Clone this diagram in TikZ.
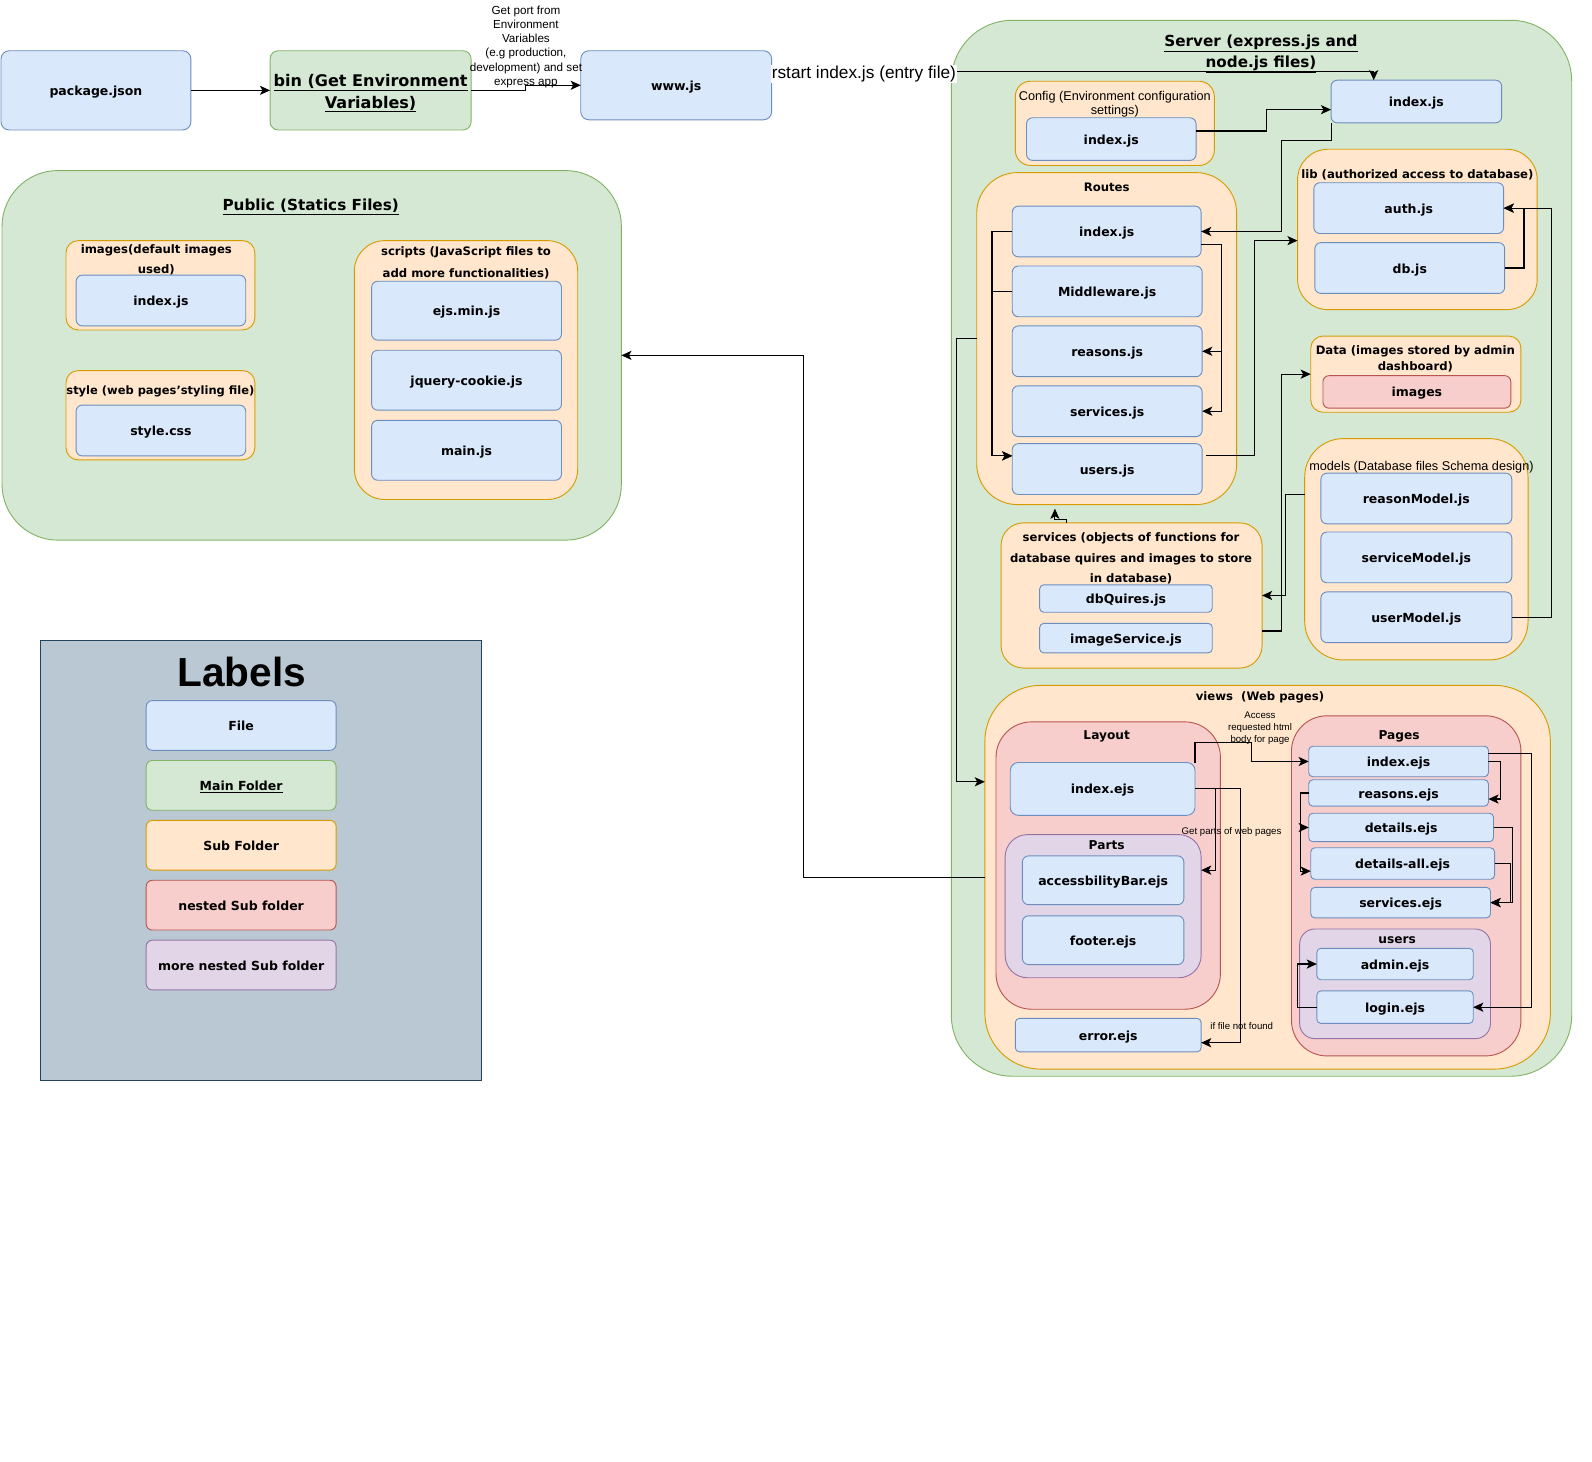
\documentclass[tikz,border=0pt]{standalone}
\usepackage{fontspec}
\setmainfont{DejaVu Sans}
\newfontfamily\arialf{Liberation Sans}
\usetikzlibrary{arrows.meta,calc}
\definecolor{fileF}{HTML}{DAE8FC}
\definecolor{fileD}{HTML}{6C8EBF}
\definecolor{mainF}{HTML}{D5E8D4}
\definecolor{mainD}{HTML}{82B366}
\definecolor{subF}{HTML}{FFE6CC}
\definecolor{subD}{HTML}{D79B00}
\definecolor{nestF}{HTML}{F8CECC}
\definecolor{nestD}{HTML}{B85450}
\definecolor{moreF}{HTML}{E1D5E7}
\definecolor{moreD}{HTML}{9673A6}
\definecolor{legF}{HTML}{BAC8D3}
\definecolor{legD}{HTML}{23445D}
\newcommand\ffile{\fontsize{12.3}{15}\selectfont\bfseries}
\newcommand\ffold{\fontsize{11.5}{15}\selectfont\bfseries}
\newcommand\fmain{\fontsize{15}{20}\selectfont\bfseries}
\newcommand\fsmall{\arialf\fontsize{9.5}{12}\selectfont}
\newcommand\fnote{\arialf\fontsize{11.5}{14}\selectfont}
\newcommand\fcfg{\arialf\fontsize{12.5}{14}\selectfont}
\begin{document}
\begin{tikzpicture}[x=1pt,y=-1pt,
 wh/.style 2 args={minimum width=#1pt, minimum height=#2pt},
 box/.style={draw, line width=0.9pt, inner sep=0pt, outer sep=0pt, anchor=north west, align=center},
 file/.style={box, fill=fileF, draw=fileD, rounded corners=6pt, font=\ffile, text height=10pt, text depth=0pt},
 mainf/.style={box, fill=mainF, draw=mainD},
 subf/.style={box, fill=subF, draw=subD},
 nestf/.style={box, fill=nestF, draw=nestD},
 moref/.style={box, fill=moreF, draw=moreD},
 ttl/.style={inner sep=0pt, align=center, font=\ffold},
 arr/.style={line width=1.1pt, -{Stealth[length=10pt,width=9pt,inset=2.5pt]}},
]
\useasboundingbox (0,0) rectangle (1568,1439);

% ---------- top row
\node[file, rounded corners=8pt, wh={187}{78}] (pkg) at (1,50) {package.json};
\node[mainf, rounded corners=8pt, wh={198}{78}] (bin) at (266,50) {};
\node[ttl, font=\fontsize{15.8}{21}\selectfont\bfseries] (binT) at (365,92) {\underline{bin (Get Environment}\\\underline{Variables)}};
\node[file, rounded corners=8pt, wh={188}{68}] (www) at (572,50) {www.js};
\node[font=\fnote, align=center, inner sep=0pt] (portlbl) at (518,46) {Get port from\\Environment\\Variables\\(e.g production,\\development) and set\\express app};

% ---------- Server
\node[mainf, rounded corners=60pt, wh={611}{1040}] (server) at (937,20) {};
\node[ttl, font=\fmain] (serverT) at (1242,53) {\underline{Server (express.js and}\\\underline{node.js files)}};
\node[file, wh={168}{42}] (sIdx) at (1311,79) {index.js};

\node[subf, rounded corners=15pt, wh={196}{83}] (cfg) at (1000,80) {};
\node[ttl, font=\fcfg] (cfgT) at (1098,103) {Config (Environment configuration\\settings)};
\node[file, wh={167}{42}] (cIdx) at (1011,116) {index.js};

\node[subf, rounded corners=40pt, wh={256}{327}] (routes) at (962,170) {};
\node[ttl] (routesT) at (1090,184.5) {Routes};
\node[file, wh={186}{50}] (rIdx) at (997,203) {index.js};
\node[file, wh={187}{50}] (rMid) at (997,262) {Middleware.js};
\node[file, wh={187}{50}] (rRea) at (997,321) {reasons.js};
\node[file, wh={187}{50}] (rSer) at (997,380) {services.js};
\node[file, wh={187}{50}] (rUsr) at (997,437) {users.js};

\node[subf, rounded corners=30pt, wh={236}{158}] (lib) at (1278,147) {};
\node[ttl] (libT) at (1396,172.5) {lib (authorized access to database)};
\node[file, wh={187}{50}] (auth) at (1294,180) {auth.js};
\node[file, wh={187}{50}] (db) at (1295,239) {db.js};

\node[subf, rounded corners=12pt, wh={207}{75}] (data) at (1291,331) {};
\node[ttl] (dataT) at (1394,353.5) {Data (images stored by admin\\dashboard)};
\node[nestf, rounded corners=6pt, font=\ffile, text height=10pt, text depth=0pt, wh={185}{32}] (imgs) at (1303,370) {images};

\node[subf, rounded corners=38pt, wh={220}{218}] (models) at (1285,432) {};
\node[ttl, font=\fcfg] (modelsT) at (1400,460) {models (Database files Schema design)};
\node[file, wh={188}{50}] (mReason) at (1301,466) {reasonModel.js};
\node[file, wh={188}{50}] (mService) at (1301,524) {serviceModel.js};
\node[file, wh={188}{50}] (mUser) at (1301,583) {userModel.js};

\node[subf, rounded corners=22pt, wh={257}{143}] (svc) at (986,515) {};
\node[ttl, font=\fontsize{11.5}{20.5}\selectfont\bfseries] (svcT) at (1114,550) {services (objects of functions for\\database quires and images to store\\in database)};
\node[file, rounded corners=4pt, wh={170}{27}] (sDb) at (1024,576) {dbQuires.js};
\node[file, rounded corners=4pt, wh={170}{29}] (sImg) at (1024,614) {imageService.js};

% ---------- views
\node[subf, rounded corners=55pt, wh={557}{378}] (views) at (970,675) {};
\node[ttl] (viewsT) at (1241,686.5) {views\ \ (Web pages)};

\node[nestf, rounded corners=35pt, wh={221}{283}] (layout) at (981,711) {};
\node[ttl, font=\fontsize{12}{15}\selectfont\bfseries] (layoutT) at (1090,725.5) {Layout};
\node[file, rounded corners=8pt, wh={182}{52}] (lIdx) at (995,751) {index.ejs};
\node[moref, rounded corners=22pt, wh={193}{141}] (parts) at (990,822) {};
\node[ttl, font=\fontsize{12}{15}\selectfont\bfseries] (partsT) at (1090,832) {Parts};
\node[file, wh={159}{48}] (acc) at (1007,843) {accessbilityBar.ejs};
\node[file, wh={159}{48}] (foot) at (1007,902) {footer.ejs};
\node[file, rounded corners=4pt, wh={183}{33}] (err) at (1000,1003) {error.ejs};

\node[nestf, rounded corners=35pt, wh={226}{335}] (pages) at (1272,705) {};
\node[ttl, font=\fontsize{12}{15}\selectfont\bfseries] (pagesT) at (1378,725.5) {Pages};
\node[file, rounded corners=4pt, wh={177}{30}] (pIdx) at (1289,735) {index.ejs};
\node[file, rounded corners=4pt, wh={177}{26}] (pRea) at (1289,768) {reasons.ejs};
\node[file, rounded corners=4pt, wh={182}{28}] (pDet) at (1289,801) {details.ejs};
\node[file, rounded corners=4pt, wh={181}{31}] (pDall) at (1291,835) {details-all.ejs};
\node[file, rounded corners=4pt, wh={177}{30}] (pSer) at (1291,874) {services.ejs};
\node[moref, rounded corners=15pt, wh={188}{108}] (usersF) at (1280,915) {};
\node[ttl, font=\fontsize{12}{15}\selectfont\bfseries] (usersT) at (1376,925.5) {users};
\node[file, rounded corners=4pt, wh={154}{31}] (adm) at (1297,934) {admin.ejs};
\node[file, rounded corners=4pt, wh={154}{32}] (login) at (1297,976) {login.ejs};

% ---------- Public
\node[mainf, rounded corners=55pt, wh={610}{364}] (public) at (2,168) {};
\node[ttl, font=\fmain] (publicT) at (306,204) {\underline{Public (Statics Files)}};
\node[subf, rounded corners=12pt, wh={186}{88}] (imgF) at (65,237) {};
\node[ttl, font=\fontsize{11.5}{20}\selectfont\bfseries] (imgFT) at (154,256) {images(default images\\used)};
\node[file, wh={167}{50}] (pubIdx) at (75,271) {index.js};
\node[subf, rounded corners=12pt, wh={186}{88}] (styleF) at (65,365) {};
\node[ttl, font=\fontsize{11.3}{15}\selectfont\bfseries] (styleFT) at (158,385.5) {style (web pages'styling file)};
\node[file, wh={167}{50}] (css) at (75,399) {style.css};
\node[subf, rounded corners=30pt, wh={220}{255}] (scrF) at (349,237) {};
\node[ttl, font=\fontsize{11.5}{21}\selectfont\bfseries] (scrFT) at (459,259) {scripts (JavaScript files to\\add more functionalities)};
\node[file, wh={187}{58}] (ejs) at (366,277) {ejs.min.js};
\node[file, wh={187}{59}] (jq) at (366,345) {jquery-cookie.js};
\node[file, wh={187}{59}] (mjs) at (366,414) {main.js};

% ---------- Legend
\node[box, fill=legF, draw=legD, wh={434}{433}] (legend) at (40,631) {};
\node[inner sep=0pt, font=\arialf\fontsize{40}{44}\selectfont\bfseries] (legT) at (238,662) {Labels};
\node[file, wh={187}{49}] (lgFile) at (144,690) {File};
\node[mainf, rounded corners=6pt, font=\ffile, text height=10pt, text depth=0pt, wh={187}{49}] (lgMain) at (144,749) {\underline{Main Folder}};
\node[subf, rounded corners=6pt, font=\ffile, text height=10pt, text depth=0pt, wh={187}{49}] (lgSub) at (144,808) {Sub Folder};
\node[nestf, rounded corners=6pt, font=\ffile, text height=10pt, text depth=0pt, wh={187}{49}] (lgNest) at (144,867) {nested Sub folder};
\node[moref, rounded corners=6pt, font=\ffile, text height=10pt, text depth=0pt, wh={187}{49}] (lgMore) at (144,926) {more nested Sub folder};

% ---------- connectors
\draw[arr] (pkg.east) -- (bin.west);
\draw[arr] (bin.east) -- ++(54,0) |- (www.west);
\draw[arr] ([yshift=14pt]www.east) -| ([xshift=-42pt]sIdx.north);
\node[fill=white, inner sep=1pt, anchor=west, font=\arialf\fontsize{17}{19}\selectfont] (startLbl) at (759,73) {rstart index.js (entry file)};

\draw[arr] ([yshift=8pt]cIdx.east) -- ++(69,0) |- ([yshift=-8pt]sIdx.west);
\draw[arr] (sIdx.south west) |- (1262,138) |- (rIdx.east);
\draw[arr] (rIdx.west) -- ++(-20,0) |- ([yshift=13pt]rUsr.west);
\draw[arr] (rMid.west) -- ++(-20,0) |- ([yshift=13pt]rUsr.west);
\draw[arr] ([yshift=-13pt]rIdx.east) -- ++(20,0) |- (rRea.east);
\draw[arr] ([yshift=-13pt]rIdx.east) -- ++(20,0) |- (rSer.east);
\draw[arr] ([xshift=4pt,yshift=13pt]rUsr.east) -- ++(48,0) |- ([yshift=-11pt]lib.west);
\draw[arr] (db.east) -- ++(19,0) |- (auth.east);
\draw[arr] (mUser.east) -- ++(39,0) |- (auth.east);
\draw[arr] ([yshift=54pt]models.west) -- ++(-19,0) |- (svc.east);
\draw[arr] ([yshift=-35pt]svc.east) -- ++(19,0) |- (data.west);
\draw[arr] ([xshift=-64pt]svc.north) -- ++(0,-3) -| ([xshift=-51pt,yshift=-4pt]routes.south);
\draw[arr] (routes.west) -- ++(-20,0) |- ([yshift=94pt]views.west);
\draw[arr] (views.west) -- ++(-179,0) |- (public.east);

\draw[arr] (lIdx.east) -- ++(20,0) |- ([yshift=35.5pt]parts.east);
\draw[arr] (lIdx.east) -- ++(45,0) |- ([yshift=-7.5pt]err.east);
\draw[arr] (lIdx.north east) |- (1233,731) |- (pIdx.west);
\node[font=\fsmall, inner sep=0pt] (gpLbl) at (1213,819) {Get parts of web pages};
\node[font=\fsmall, inner sep=0pt] (nfLbl) at (1223,1011) {if file not found};
\node[font=\fsmall, inner sep=0pt, align=center] (accLbl) at (1241,717) {Access\\requested html\\body for page};

\draw[arr] (pIdx.east) -- ++(12,0) |- ([yshift=-6pt]pRea.east);
\draw[arr] ([yshift=8pt]pIdx.east) -- ++(42,0) |- (login.east);
\draw[arr] (pRea.west) -- ++(-8,0) |- (pDet.west);
\draw[arr] (pRea.west) -- ++(-8,0) |- ([yshift=-7.5pt]pDall.west);
\draw[arr] (pDet.east) -- ++(19,0) |- (pSer.east);
\draw[arr] (pDall.east) -- ++(16,0) |- (pSer.east);
\draw[arr] (login.west) -- ++(-19,0) |- (adm.west);
\end{tikzpicture}
\end{document}
